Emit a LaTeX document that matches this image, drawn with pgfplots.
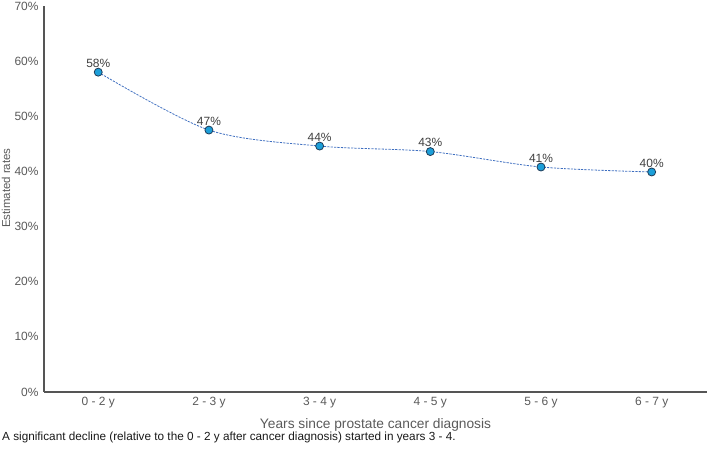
\documentclass[border=0pt]{standalone}
\usepackage{pgfplots}
\pgfplotsset{compat=1.18}
\usepackage{fontspec}
\setmainfont{Liberation Sans}
\definecolor{ticktxt}{HTML}{5A5A5A}
\definecolor{axgray}{HTML}{555555}
\definecolor{lblue}{HTML}{3F6FC0}
\definecolor{mfill}{HTML}{1C9FD9}
\definecolor{mdraw}{HTML}{1F3B57}
\begin{document}
\begin{tikzpicture}[x=1bp,y=1bp]
\useasboundingbox (0,0) rectangle (709,452);
\begin{axis}[
  at={(44bp,60bp)}, anchor=south west,
  scale only axis, width=663bp, height=386bp,
  xmin=-0.49, xmax=5.5, ymin=0, ymax=70,
  axis lines*=left,
  axis line style={color=axgray, line width=1.1bp},
  major tick length=0pt,
  ytick={0,10,...,70},
  yticklabels={0\%,10\%,20\%,30\%,40\%,50\%,60\%,70\%},
  xtick={0,...,5},
  xticklabels={0 - 2 y,2 - 3 y,3 - 4 y,4 - 5 y,5 - 6 y,6 - 7 y},
  tick label style={font=\fontsize{12}{14}\selectfont, text=ticktxt},
  yticklabel style={xshift=-2bp},
  xticklabel style={yshift=-2bp},
  xlabel={Years since prostate cancer diagnosis},
  ylabel={Estimated rates},
  xlabel style={font=\fontsize{13.8}{16}\selectfont, text=ticktxt, at={(axis description cs:0.5,0)}, anchor=center, yshift=-33bp},
  ylabel style={font=\fontsize{11.5}{14}\selectfont, text=ticktxt, at={(axis description cs:-0.0573,0.528)}, anchor=center},
  clip=false,
]
\addplot[smooth, color=lblue, line width=0.8bp, dash pattern=on 2.2bp off 1.2bp,
  mark=*, mark size=4bp,
  mark options={solid, fill=mfill, draw=mdraw, line width=0.8bp},
  point meta=explicit symbolic,
  nodes near coords={\pgfplotspointmeta\%},
  every node near coord/.append style={font=\fontsize{12}{14}\selectfont, text=black!75, anchor=south, yshift=1bp},
] coordinates {
  (0,58.0) [58]
  (1,47.5) [47]
  (2,44.6) [44]
  (3,43.6) [43]
  (4,40.8) [41]
  (5,39.9) [40]
};
\end{axis}
\node[anchor=west, font=\fontsize{11.8}{14}\selectfont, text=black!90, inner sep=0pt] at (2,15) {A significant decline (relative to the 0 - 2 y after cancer diagnosis) started in years 3 - 4.};
\end{tikzpicture}
\end{document}
